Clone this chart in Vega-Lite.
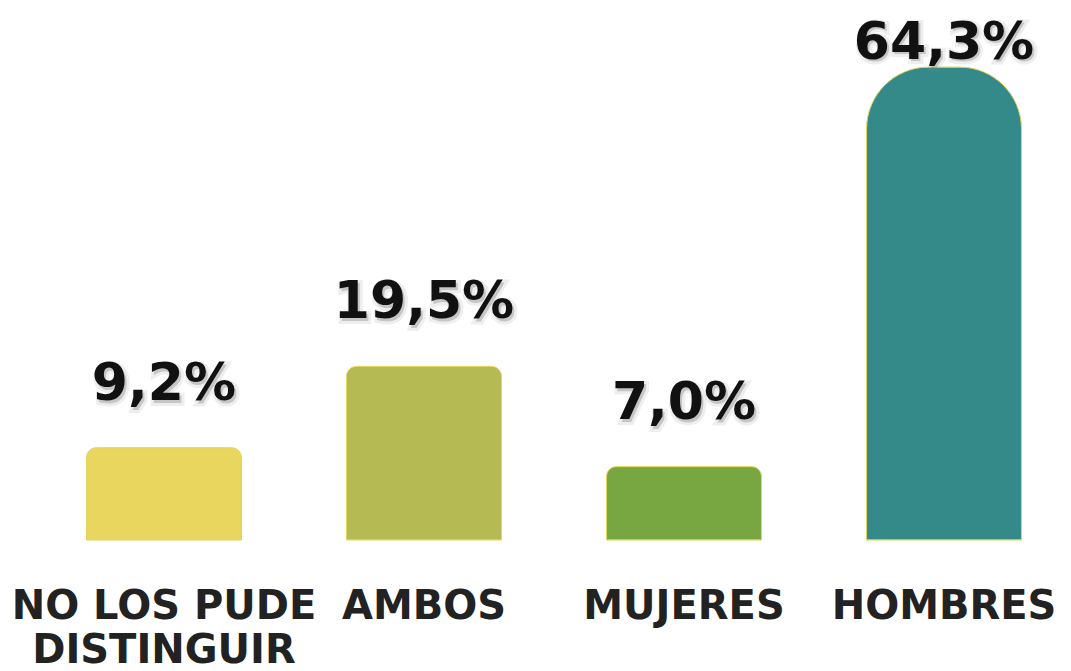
{
  "$schema": "https://vega.github.io/schema/vega-lite/v6.json",
  "width": 1071,
  "height": 540,
  "autosize": {"type": "none"},
  "padding": {"left": 0, "top": 0, "right": 0, "bottom": 131},
  "background": "white",
  "config": {"view": {"stroke": null}},
  "data": {
    "values": [
      {"cat": "NO LOS PUDE|DISTINGUIR", "pct": 9.2, "label": "9,2%", "color": "#e8d65f"},
      {"cat": "AMBOS", "pct": 19.5, "label": "19,5%", "color": "#b5ba53"},
      {"cat": "MUJERES", "pct": 7.0, "label": "7,0%", "color": "#78a641"},
      {"cat": "HOMBRES", "pct": 64.3, "label": "64,3%", "color": "#348989"}
    ]
  },
  "encoding": {
    "x": {
      "field": "cat",
      "type": "nominal",
      "sort": null,
      "scale": {
        "domain": ["NO LOS PUDE|DISTINGUIR", "AMBOS", "MUJERES", "HOMBRES"],
        "paddingInner": 0.404, "paddingOuter": 0.2615, "align": 0.636
      },
      "axis": {
        "title": null,
        "domain": false,
        "ticks": false,
        "labelAngle": 0,
        "labelExpr": "split(datum.label, '|')",
        "labelFont": "DejaVu Sans",
        "labelFontWeight": "bold",
        "labelFontSize": 40,
        "labelColor": "#222222",
        "labelBaseline": "top",
        "labelPadding": 46,
        "labelLineHeight": 44,
        "labelLimit": 0,
        "labelOverlap": false,
        "labelBound": false
      }
    },
    "y": {
      "field": "pct",
      "type": "quantitative",
      "scale": {"type": "pow", "exponent": 0.84, "domain": [0, 75.3], "nice": false, "zero": true},
      "axis": null
    }
  },
  "layer": [
    {
      "transform": [{"filter": "datum.pct < 50"}],
      "mark": {
        "type": "bar",
        "stroke": "#e3d45a",
        "strokeWidth": 1,
        "cornerRadiusTopLeft": 10,
        "cornerRadiusTopRight": 10
      },
      "encoding": {
        "color": {"field": "color", "type": "nominal", "scale": null, "legend": null}
      }
    },
    {
      "transform": [{"filter": "datum.pct >= 50"}],
      "mark": {
        "type": "bar",
        "stroke": "#e3d45a",
        "strokeWidth": 1,
        "cornerRadiusTopLeft": 62,
        "cornerRadiusTopRight": 62
      },
      "encoding": {
        "color": {"field": "color", "type": "nominal", "scale": null, "legend": null}
      }
    },
    {
      "mark": {
        "type": "text",
        "font": "DejaVu Sans",
        "fontWeight": "bold",
        "fontSize": 52,
        "baseline": "alphabetic",
        "color": "#777777",
        "opacity": 0.45,
        "stroke": "#999999",
        "strokeWidth": 6,
        "strokeOpacity": 0.35,
        "dx": 2,
        "dy": {"expr": "datum.pct > 50 ? -6 : -45"}
      },
      "encoding": {"text": {"field": "label"}}
    },
    {
      "mark": {
        "type": "text",
        "font": "DejaVu Sans",
        "fontWeight": "bold",
        "fontSize": 52,
        "baseline": "alphabetic",
        "color": "#111111",
        "dy": {"expr": "datum.pct > 50 ? -8 : -48"}
      },
      "encoding": {"text": {"field": "label"}}
    }
  ]
}
